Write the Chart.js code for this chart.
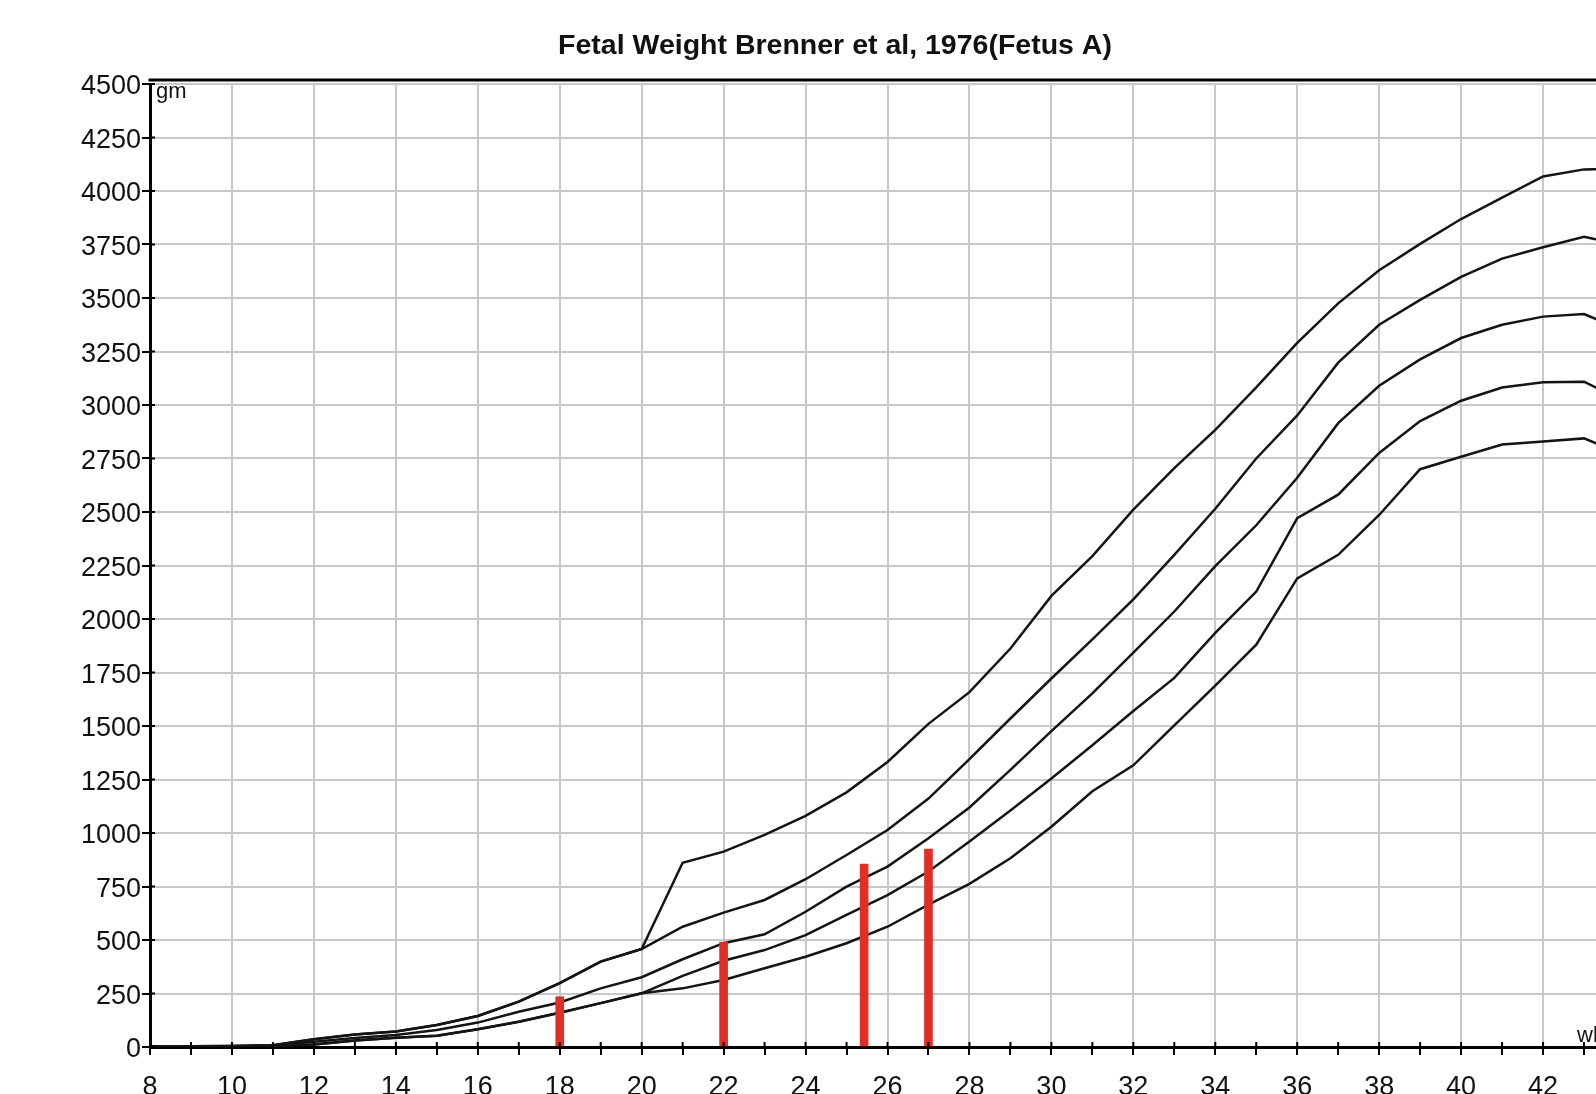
<!DOCTYPE html>
<html>
<head>
<meta charset="utf-8">
<title>Fetal Weight Brenner et al, 1976(Fetus A)</title>
<script src="https://cdn.jsdelivr.net/npm/chart.js@4.4.1/dist/chart.umd.min.js"></script>
<style>
    html, body { margin: 0; padding: 0; background: #fff; overflow: hidden; }
    #weightChart { display: block; }
</style>
</head>
<body>
<canvas id="weightChart" width="1670" height="1094" style="width:1670px;height:1094px"></canvas>
<script>
// Gestational age in weeks (x axis)
const weeks = [8, 9, 10, 11, 12, 13, 14, 15, 16, 17, 18, 19, 20, 21, 22, 23, 24, 25, 26,
    27, 28, 29, 30, 31, 32, 33, 34, 35, 36, 37, 38, 39, 40, 41, 42, 43, 44];

// Reference curves, weight in gm, top curve first
const curve1 = [4, 4, 5, 8, 36, 58, 72, 103, 145, 212, 298, 399, 458, 861, 913, 991, 1080, 1190, 1332,
    1510, 1658, 1862, 2108, 2294, 2511, 2705, 2884, 3082, 3290, 3475, 3630, 3753, 3869, 3969, 4068, 4101, 4105];
const curve2 = [4, 4, 5, 8, 36, 58, 72, 103, 145, 212, 298, 399, 458, 562, 628, 687, 784, 897, 1014,
    1161, 1345, 1535, 1722, 1905, 2092, 2300, 2515, 2750, 2951, 3198, 3375, 3491, 3599, 3684, 3737, 3786, 3745];
const curve3 = [3, 3, 4, 6, 24, 42, 56, 79, 114, 165, 208, 274, 326, 410, 485, 527, 632, 749, 843,
    975, 1119, 1295, 1476, 1652, 1843, 2035, 2247, 2438, 2660, 2915, 3090, 3213, 3313, 3375, 3413, 3425, 3345];
const curve4 = [2, 2, 3, 4, 12, 30, 43, 53, 83, 118, 160, 205, 251, 332, 403, 453, 523, 617, 710,
    820, 960, 1105, 1255, 1410, 1570, 1725, 1935, 2128, 2471, 2581, 2776, 2925, 3020, 3082, 3106, 3109, 3015];
const curve5 = [2, 2, 3, 4, 12, 30, 43, 53, 83, 118, 160, 205, 251, 274, 313, 368, 422, 485, 562,
    665, 762, 882, 1029, 1195, 1316, 1503, 1689, 1880, 2190, 2300, 2486, 2700, 2758, 2815, 2829, 2844, 2765];

// Fetus A measurements (red bars)
const examWeeks = [18, 22, 25.43, 27];
const examWeights = [235, 490, 855, 925];

const chartTitle = 'Fetal Weight Brenner et al, 1976(Fetus A)';
const yUnit = 'gm';
const xUnit = 'wk';

const fontFamily = '"Liberation Sans", Arial, sans-serif';
const tickFont = { family: fontFamily, size: 27 };

// Turn a curve into {x, y} points for the linear x scale
function toPoints(values) {
    return weeks.map((w, i) => ({ x: w, y: values[i] }));
}

function curveDataset(values) {
    return {
        type: 'line',
        data: toPoints(values),
        borderColor: '#141414',
        borderWidth: 2.5,
        pointRadius: 0,
        tension: 0,
        fill: false,
        order: 2
    };
}

// Draws the top border, the inner halves of the tick marks and the unit labels
const decorations = {
    id: 'decorations',
    afterDraw(chart) {
        const { ctx, chartArea, scales } = chart;
        ctx.save();
        ctx.strokeStyle = '#000';

        // top frame line
        ctx.lineWidth = 3;
        ctx.beginPath();
        ctx.moveTo(chartArea.left - 1.5, chartArea.top - 4);
        ctx.lineTo(chartArea.right, chartArea.top - 4);
        ctx.stroke();

        // tick marks also poke a little inside the plot
        ctx.lineWidth = 2;
        ctx.beginPath();
        scales.x.ticks.forEach(t => {
            const px = scales.x.getPixelForValue(t.value);
            ctx.moveTo(px, chartArea.bottom);
            ctx.lineTo(px, chartArea.bottom - 5);
        });
        scales.y.ticks.forEach(t => {
            const py = scales.y.getPixelForValue(t.value);
            ctx.moveTo(chartArea.left, py);
            ctx.lineTo(chartArea.left + 5, py);
        });
        ctx.stroke();

        // unit labels
        ctx.fillStyle = '#111';
        ctx.font = '22px ' + fontFamily;
        ctx.textBaseline = 'alphabetic';
        ctx.textAlign = 'left';
        ctx.fillText(yUnit, chartArea.left + 6, chartArea.top + 14);
        ctx.fillText(xUnit, scales.x.getPixelForValue(43) - 7, chartArea.bottom - 5);
        ctx.restore();
    }
};

document.addEventListener('DOMContentLoaded', () => {
    const ctx = document.getElementById('weightChart').getContext('2d');

    new Chart(ctx, {
        data: {
            datasets: [
                {
                    type: 'bar',
                    data: examWeeks.map((w, i) => ({ x: w, y: examWeights[i] })),
                    backgroundColor: '#df2f27',
                    barThickness: 8,
                    order: 1
                },
                curveDataset(curve1),
                curveDataset(curve2),
                curveDataset(curve3),
                curveDataset(curve4),
                curveDataset(curve5)
            ]
        },
        options: {
            responsive: false,
            devicePixelRatio: 1,
            animation: false,
            // equal side padding keeps the title centred where the original had it
            layout: { padding: { left: 45, right: 45, top: 0, bottom: 0 } },
            plugins: {
                legend: { display: false },
                tooltip: { enabled: false },
                title: {
                    display: true,
                    text: chartTitle,
                    color: '#111',
                    font: { family: fontFamily, size: 28.5, weight: 'bold', lineHeight: 1.2 },
                    padding: { top: 29, bottom: 20.8 }
                }
            },
            scales: {
                x: {
                    type: 'linear',
                    min: 8,
                    max: 44,
                    offset: false,
                    afterFit: s => { s.height = 47; },
                    ticks: {
                        stepSize: 1,
                        autoSkip: false,
                        maxRotation: 0,
                        padding: 16,
                        color: '#111',
                        font: tickFont,
                        callback: v => (v % 2 === 0 ? String(v) : '')
                    },
                    grid: {
                        offset: false,
                        color: c => (c.tick && c.tick.value % 2 === 0 ? '#c8c8c8' : 'rgba(0,0,0,0)'),
                        lineWidth: 2,
                        tickColor: '#000',
                        tickLength: 8,
                        tickWidth: 2
                    },
                    border: { color: '#000', width: 3 }
                },
                y: {
                    min: 0,
                    max: 4500,
                    afterFit: s => { s.width = 105; },
                    ticks: {
                        stepSize: 250,
                        autoSkip: false,
                        padding: 1,
                        labelOffset: 3,
                        color: '#111',
                        font: tickFont,
                        callback: v => String(v)
                    },
                    grid: {
                        color: '#c8c8c8',
                        lineWidth: 2,
                        tickColor: '#000',
                        tickLength: 8,
                        tickWidth: 2
                    },
                    border: { color: '#000', width: 3 }
                }
            }
        },
        plugins: [decorations]
    });
});
</script>
</body>
</html>
